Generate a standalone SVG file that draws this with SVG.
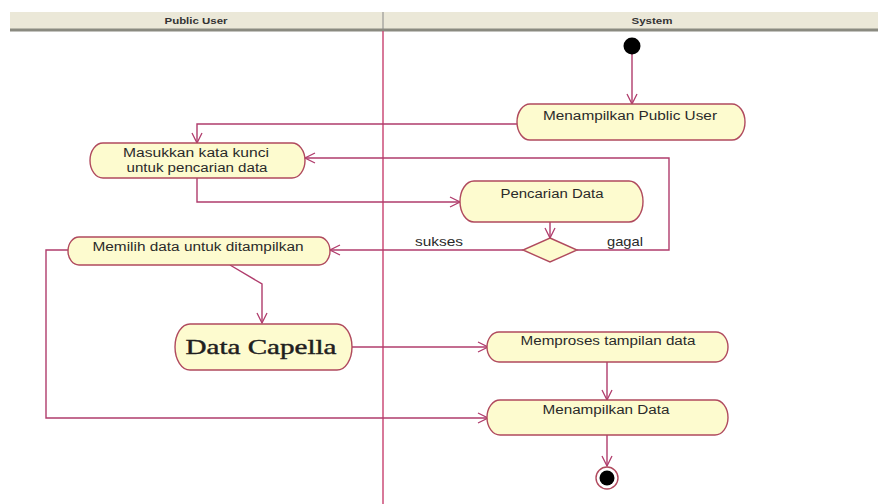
<svg xmlns="http://www.w3.org/2000/svg" width="878" height="504" viewBox="0 0 878 504">
  <style>
    .lane-head { fill: #ebe8d8; }
    .lane-bar { fill: #8a8a80; }
    .lane-text { font-family: "Liberation Sans", Arial, sans-serif; font-size: 9px; font-weight: bold; fill: #333; text-anchor: middle; }
    .act { fill: #fdfbcf; stroke: #b04a5e; stroke-width: 1.4; }
    .label { font-family: "Liberation Sans", Arial, sans-serif; font-size: 12.5px; fill: #2a2a2a; text-anchor: middle; }
    .big { font-family: "Liberation Serif", "Times New Roman", serif; font-size: 22px; fill: #1f1f1f; stroke: #1f1f1f; stroke-width: 0.45; text-anchor: middle; }
    .flow { fill: none; stroke: #b03c6c; stroke-width: 1.4; }
    .guard { font-family: "Liberation Sans", Arial, sans-serif; font-size: 13px; fill: #2a2a2a; }
  </style>
  <defs>
    <marker id="open" viewBox="0 0 12 12" refX="11" refY="6" markerWidth="12" markerHeight="12" markerUnits="userSpaceOnUse" orient="auto">
      <path d="M1,1 L11,6 L1,11" fill="none" stroke="#b03c6c" stroke-width="1.3"/>
    </marker>
  </defs>

  <rect width="878" height="504" fill="#ffffff"/>

  <!-- swimlane headers -->
  <g id="lanes">
    <rect class="lane-head" x="10" y="12" width="868" height="17"/>
    <rect class="lane-bar" x="10" y="28.5" width="868" height="3"/>
    <line x1="383" y1="12" x2="383" y2="29" stroke="#888" stroke-width="1"/>
    <text class="lane-text" x="196" y="23.5" textLength="63" lengthAdjust="spacingAndGlyphs">Public User</text>
    <text class="lane-text" x="652" y="23.5" textLength="41" lengthAdjust="spacingAndGlyphs">System</text>
    <line x1="383" y1="31" x2="383" y2="504" stroke="#c8406e" stroke-width="1.4"/>
  </g>

  <!-- control flows -->
  <g id="connectors">
    <path class="flow" d="M632,54 L632,104" marker-end="url(#open)"/>
    <path class="flow" d="M517,124 L197,124 L197,143" marker-end="url(#open)"/>
    <path class="flow" d="M197,178 L197,202 L460,202" marker-end="url(#open)"/>
    <path class="flow" d="M550,222 L550,238" marker-end="url(#open)"/>
    <path class="flow" d="M577,250 L669,250 L669,158 L305,158" marker-end="url(#open)"/>
    <path class="flow" d="M523,250 L330,250" marker-end="url(#open)"/>
    <path class="flow" d="M230,265 L262,284 L262,323" marker-end="url(#open)"/>
    <path class="flow" d="M352,347 L488,347" marker-end="url(#open)"/>
    <path class="flow" d="M607,362 L607,400" marker-end="url(#open)"/>
    <path class="flow" d="M68,250 L46,250 L46,418 L488,418" marker-end="url(#open)"/>
    <path class="flow" d="M607,435 L607,466" marker-end="url(#open)"/>
    <text class="guard" x="415" y="246" textLength="48" lengthAdjust="spacingAndGlyphs">sukses</text>
    <text class="guard" x="607" y="246" textLength="36" lengthAdjust="spacingAndGlyphs">gagal</text>
  </g>

  <g id="start">
    <circle cx="632" cy="46" r="8.5" fill="#000"/>
  </g>

  <g id="menampilkan-public-user">
    <rect class="act" x="517" y="104" width="228" height="36" rx="13" ry="18"/>
    <text class="label" x="630" y="120" textLength="174" lengthAdjust="spacingAndGlyphs">Menampilkan Public User</text>
  </g>

  <g id="masukkan-kata-kunci">
    <rect class="act" x="90" y="143" width="215" height="35" rx="13" ry="17.5"/>
    <text class="label" x="196" y="157" textLength="146" lengthAdjust="spacingAndGlyphs">Masukkan kata kunci</text>
    <text class="label" x="197" y="172" textLength="141" lengthAdjust="spacingAndGlyphs">untuk pencarian data</text>
  </g>

  <g id="pencarian-data">
    <rect class="act" x="460" y="181" width="183" height="41" rx="14" ry="20.5"/>
    <text class="label" x="552" y="198" textLength="103" lengthAdjust="spacingAndGlyphs">Pencarian Data</text>
  </g>

  <g id="decision">
    <polygon points="550,238 577,250 550,262 523,250" fill="#fdfbcf" stroke="#b04a5e" stroke-width="1.4"/>
  </g>

  <g id="memilih-data">
    <rect class="act" x="68" y="237" width="262" height="28" rx="11" ry="14"/>
    <text class="label" x="198" y="251" textLength="211" lengthAdjust="spacingAndGlyphs">Memilih data untuk ditampilkan</text>
  </g>

  <g id="data-capella">
    <rect class="act" x="175" y="324" width="177" height="46" rx="15" ry="23"/>
    <text class="big" x="261" y="354" textLength="151" lengthAdjust="spacingAndGlyphs">Data Capella</text>
  </g>

  <g id="memproses-tampilan">
    <rect class="act" x="487" y="332" width="241" height="30" rx="12" ry="15"/>
    <text class="label" x="608" y="345" textLength="175" lengthAdjust="spacingAndGlyphs">Memproses tampilan data</text>
  </g>

  <g id="menampilkan-data">
    <rect class="act" x="487" y="400" width="241" height="35" rx="13" ry="17.5"/>
    <text class="label" x="606" y="414" textLength="127" lengthAdjust="spacingAndGlyphs">Menampilkan Data</text>
  </g>

  <g id="end">
    <circle cx="607" cy="478" r="11" fill="#fff" stroke="#b04a5e" stroke-width="1.4"/>
    <circle cx="607" cy="478" r="7.5" fill="#000"/>
  </g>
</svg>
